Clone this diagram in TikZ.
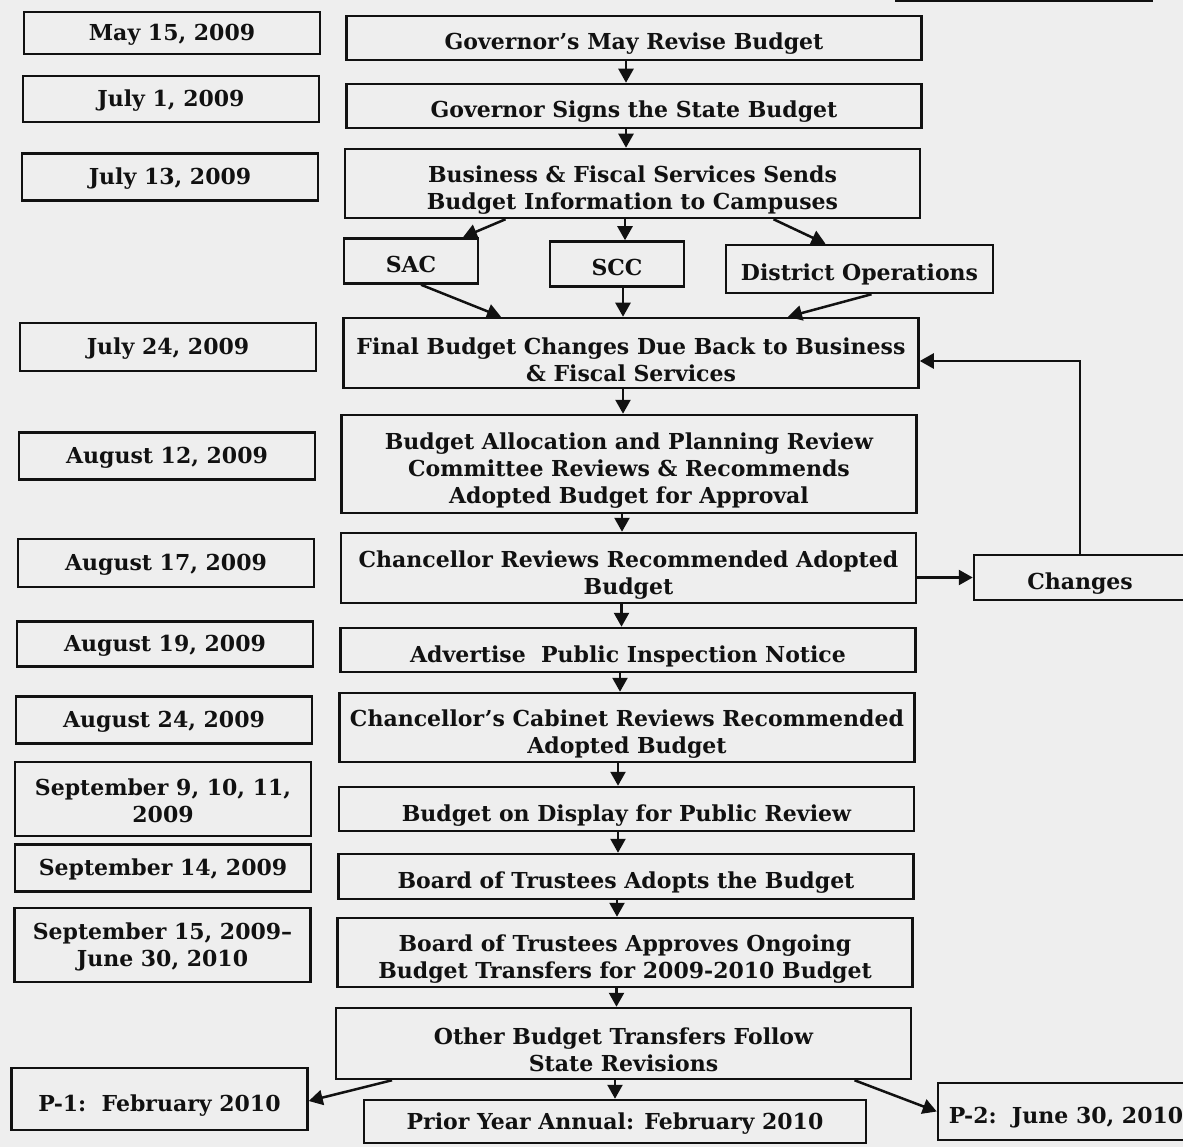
\documentclass[tikz,border=0pt]{standalone}
\usepackage{fontspec}
\setmainfont{DejaVu Serif}
\usetikzlibrary{arrows.meta}
\definecolor{bg}{HTML}{EEEEEE}
\definecolor{ink}{HTML}{111111}
\newcommand\boxstrut{\rule[-6pt]{0pt}{36pt}}
\newcommand\datestrut{\rule[-6pt]{0pt}{27pt}}
\begin{document}
\begin{tikzpicture}[x=1pt,y=-1pt,
  every node/.style={font=\bfseries\fontsize{22}{27}\selectfont, text=ink},
  box/.style={draw=ink, line width=2.5pt, align=center, inner sep=0pt},
  date/.style={box, minimum width=296},
  stepbox/.style={box, minimum width=575},
  arr/.style={draw=ink, line width=2.5pt, -{Triangle[length=14pt,width=15pt]}},
]
\fill[bg] (0,0) rectangle (1183,1147);
\useasboundingbox (0,0) rectangle (1183,1147);
\draw[ink, line width=3pt] (895,1) -- (1153,1);

% date column
\node[date, minimum height=42] (d1) at (172,33) {\datestrut May 15, 2009};
\node[date, minimum height=46] (d2) at (171,99) {\datestrut July 1, 2009};
\node[date, minimum height=47] (d3) at (170,177) {\datestrut July 13, 2009};
\node[date, minimum height=48] (d4) at (168,347) {\datestrut July 24, 2009};
\node[date, minimum height=47] (d5) at (167,456) {\datestrut August 12, 2009};
\node[date, minimum height=48] (d6) at (166,563) {\datestrut August 17, 2009};
\node[date, minimum height=45] (d7) at (165,644) {\datestrut August 19, 2009};
\node[date, minimum height=47] (d8) at (164,720) {\datestrut August 24, 2009};
\node[date, minimum height=74] (d9) at (163,799) {\datestrut September 9, 10, 11,\\2009};
\node[date, minimum height=47] (d10) at (163,868) {\datestrut September 14, 2009};
\node[date, minimum height=74] (d11) at (162.5,945) {\datestrut September 15, 2009–\\June 30, 2010};
\node[date, minimum height=62] (p1) at (159.5,1099) {\boxstrut P-1:\ \ February 2010};

% process column
\node[stepbox, minimum height=44] (A) at (634,38) {\boxstrut Governor’s May Revise Budget};
\node[stepbox, minimum height=44] (B) at (634,106) {\boxstrut Governor Signs the State Budget};
\node[stepbox, minimum height=69] (C) at (632.5,183.5) {\boxstrut Business \& Fiscal Services Sends\\Budget Information to Campuses};
\node[box, minimum width=134, minimum height=45] (sac) at (411,261) {\boxstrut SAC};
\node[box, minimum width=134, minimum height=45] (scc) at (617,264) {\boxstrut SCC};
\node[box, minimum width=267, minimum height=48] (dop) at (859.5,269) {\boxstrut District Operations};
\node[stepbox, minimum height=70] (G) at (631,353) {\boxstrut Final Budget Changes Due Back to Business\\\& Fiscal Services};
\node[stepbox, minimum height=98] (H) at (629,464) {\boxstrut Budget Allocation and Planning Review\\Committee Reviews \& Recommends\\Adopted Budget for Approval};
\node[stepbox, minimum height=70] (I) at (628.5,568) {\boxstrut Chancellor Reviews Recommended Adopted\\Budget};
\node[box, minimum width=212, minimum height=45] (chg) at (1080,577.5) {\boxstrut Changes};
\node[stepbox, minimum height=44] (K) at (628,650) {\boxstrut Advertise\ \ Public Inspection Notice};
\node[stepbox, minimum height=69] (L) at (627,727.5) {\boxstrut Chancellor’s Cabinet Reviews Recommended\\Adopted Budget};
\node[stepbox, minimum height=44] (M) at (626.5,809) {\boxstrut Budget on Display for Public Review};
\node[stepbox, minimum height=45] (N) at (626,876.5) {\boxstrut Board of Trustees Adopts the Budget};
\node[stepbox, minimum height=69] (O) at (625,952.5) {\boxstrut Board of Trustees Approves Ongoing\\Budget Transfers for 2009-2010 Budget};
\node[stepbox, minimum height=71] (P) at (623.5,1043.5) {\boxstrut Other Budget Transfers Follow\\State Revisions};
\node[box, minimum width=502, minimum height=43] (Q) at (615,1121.5) {\datestrut Prior Year Annual: February 2010};
\node[box, minimum width=256, minimum height=57] (p2) at (1066,1111.5) {\boxstrut P-2:\ \ June 30, 2010};

% connectors
\draw[arr] ([xshift=-8]A.south) -- ([xshift=-8]A.south |- B.north);
\draw[arr] ([xshift=-8]B.south) -- ([xshift=-8]B.south |- C.north);
\draw[arr] ([xshift=-127]C.south) -- ([xshift=52]sac.north);
\draw[arr] ([xshift=-7.5]C.south) -- ([xshift=-7.5]C.south |- scc.north);
\draw[arr] ([xshift=141]C.south) -- ([xshift=-34]dop.north);
\draw[arr] ([xshift=10]sac.south) -- ([xshift=-130]G.north);
\draw[arr] ([xshift=6]scc.south) -- ([xshift=6]scc.south |- G.north);
\draw[arr] ([xshift=12]dop.south) -- ([xshift=157]G.north);
\draw[arr] ([xshift=-8]G.south) -- ([xshift=-8]G.south |- H.north);
\draw[arr] ([xshift=-7]H.south) -- ([xshift=-7]H.south |- I.north);
\draw[arr] (I.east |- chg.west) -- (chg.west);
\draw[arr] (chg.north) |- ([yshift=-8]G.east);
\draw[arr] ([xshift=-7]I.south) -- ([xshift=-7]I.south |- K.north);
\draw[arr] ([xshift=-8]K.south) -- ([xshift=-8]K.south |- L.north);
\draw[arr] ([xshift=-9]L.south) -- ([xshift=-9]L.south |- M.north);
\draw[arr] ([xshift=-8.5]M.south) -- ([xshift=-8.5]M.south |- N.north);
\draw[arr] ([xshift=-9]N.south) -- ([xshift=-9]N.south |- O.north);
\draw[arr] ([xshift=-8.5]O.south) -- ([xshift=-8.5]O.south |- P.north);
\draw[arr] ([xshift=-231.5]P.south) -- ([yshift=-2]p1.east);
\draw[arr] ([xshift=-8.5]P.south) -- ([xshift=-8.5]P.south |- Q.north);
\draw[arr] ([xshift=231]P.south) -- (p2.west);
\end{tikzpicture}
\end{document}
